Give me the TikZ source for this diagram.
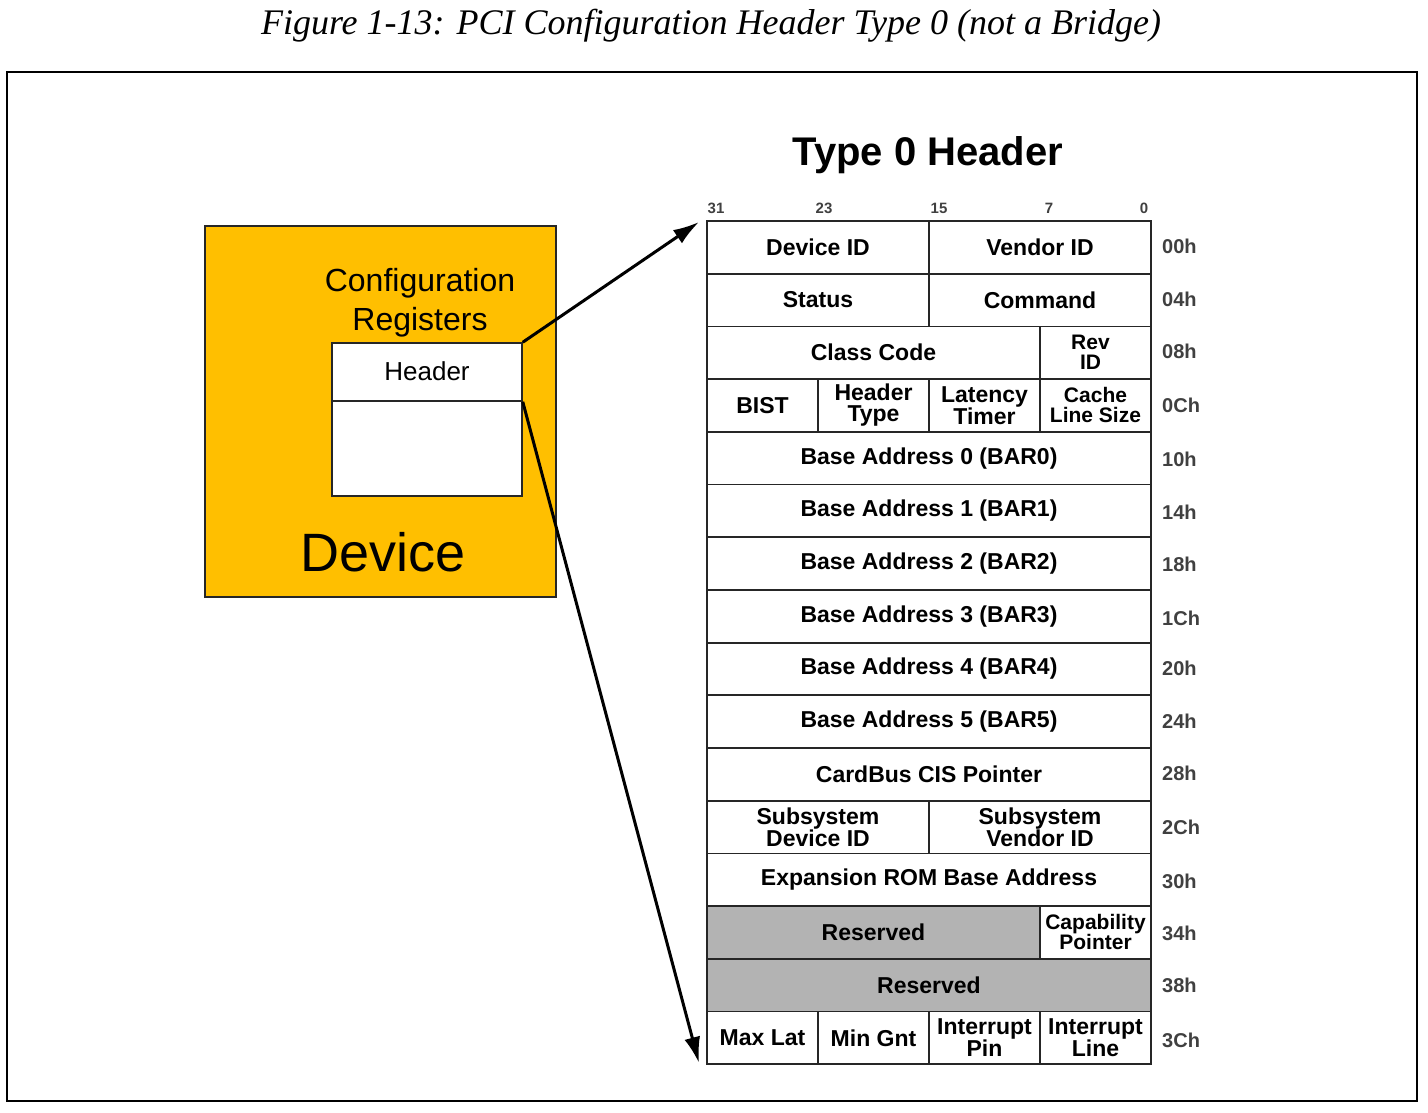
\documentclass[tikz,border=0pt]{standalone}
\usepackage{fontspec}
\setsansfont{Liberation Sans}
\newfontfamily\capfont{Liberation Serif}
\usetikzlibrary{arrows.meta}
\definecolor{devorange}{HTML}{FFBF00}
\definecolor{resgray}{HTML}{B3B3B3}
\definecolor{offgray}{HTML}{404040}
\begin{document}
\begin{tikzpicture}[x=1pt,y=-1pt,
  cell/.style={draw=black!85, line width=1.8pt, fill=white, inner sep=0pt, minimum height=52.7pt, align=center,
    font=\sffamily\bfseries\fontsize{23}{21}\selectfont},
  q1/.style={cell, minimum width=111pt},
  q2/.style={cell, minimum width=222pt},
  q3/.style={cell, minimum width=333pt},
  q4/.style={cell, minimum width=444pt},
  small/.style={font=\sffamily\bfseries\fontsize{21}{20}\selectfont},
  res/.style={fill=resgray},
  offs/.style={anchor=west, inner sep=0pt, text=offgray, font=\sffamily\bfseries\fontsize{20}{22}\selectfont},
  bitn/.style={inner sep=0pt, text=offgray, font=\sffamily\bfseries\fontsize{15}{17}\selectfont},
  conn/.style={line width=3pt, -{Latex[length=26pt,width=16pt]}}
]
\useasboundingbox (0,0) rectangle (1428,1113);
% caption
\node[inner sep=0pt] (caption) at (711,26) {\capfont\itshape\fontsize{36}{38}\selectfont Figure 1-13: PCI Configuration Header Type 0 (not a Bridge)};
% frame
\draw[line width=2.5pt] (7,72) rectangle (1417,1101);
% device
\node[draw=black!85, line width=1.5pt, fill=devorange, minimum width=351pt, minimum height=371pt, inner sep=0pt] (dev) at (380.5,411.5) {};
\node[inner sep=0pt, align=center, font=\sffamily\fontsize{32}{39}\selectfont] (cfg) at (420,303) {Configuration\\Registers};
\node[draw=black!85, line width=1.5pt, fill=white, minimum width=190pt, minimum height=58pt, inner sep=0pt, font=\sffamily\fontsize{26}{28}\selectfont] (hdr) at (427,372) {\raisebox{2pt}{Header}};
\node[draw=black!85, line width=1.5pt, fill=white, minimum width=190pt, minimum height=95pt, inner sep=0pt] (hbody) at (427,448.5) {};
\node[inner sep=0pt, font=\sffamily\fontsize{54}{60}\selectfont] (devlbl) at (383,552) {Device};
% title
\node[inner sep=0pt, font=\sffamily\bfseries\fontsize{40}{44}\selectfont] (title) at (928,155) {Type 0 Header};
% bit numbers
\node[bitn] (b31) at (716,208) {31};
\node[bitn] (b23) at (824,208) {23};
\node[bitn] (b15) at (939,208) {15};
\node[bitn] (b7) at (1049,208) {7};
\node[bitn] (b0) at (1144,208) {0};
% rows
\node[q2] (devid) at (818,247.35) {Device ID};
\node[q2] (venid) at (1040,247.35) {Vendor ID};
\node[q2] (status) at (818,300.05) {Status};
\node[q2] (cmd) at (1040,300.05) {Command};
\node[q3] (class) at (873.5,352.75) {Class Code};
\node[q1,small] (rev) at (1095.5,352.75) {\hspace*{-10pt}Rev\\\hspace*{-10pt}ID};
\node[q1] (bist) at (762.5,405.45) {BIST};
\node[q1] (htype) at (873.5,405.45) {Header\\Type};
\node[q1] (lat) at (984.5,405.45) {Latency\\Timer};
\node[q1,small] (cls) at (1095.5,405.45) {Cache\\Line Size};
\node[q4] (bar0) at (929,458.15) {Base Address 0 (BAR0)};
\node[q4] (bar1) at (929,510.85) {Base Address 1 (BAR1)};
\node[q4] (bar2) at (929,563.55) {Base Address 2 (BAR2)};
\node[q4] (bar3) at (929,616.25) {Base Address 3 (BAR3)};
\node[q4] (bar4) at (929,668.95) {Base Address 4 (BAR4)};
\node[q4] (bar5) at (929,721.65) {Base Address 5 (BAR5)};
\node[q4] (cis) at (929,774.35) {CardBus CIS Pointer};
\node[q2] (ssdev) at (818,827.05) {Subsystem\\Device ID};
\node[q2] (ssven) at (1040,827.05) {Subsystem\\Vendor ID};
\node[q4] (rom) at (929,879.75) {Expansion ROM Base Address};
\node[q3,res] (resa) at (873.5,932.45) {Reserved};
\node[q1,small] (capptr) at (1095.5,932.45) {Capability\\Pointer};
\node[q4,res] (resb) at (929,985.15) {Reserved};
\node[q1] (maxlat) at (762.5,1037.85) {Max Lat};
\node[q1] (mingnt) at (873.5,1037.85) {Min Gnt};
\node[q1] (ipin) at (984.5,1037.85) {Interrupt\\Pin};
\node[q1] (iline) at (1095.5,1037.85) {Interrupt\\Line};
% offsets
\node[offs] (o00) at (1162,246) {00h};
\node[offs] (o04) at (1162,299) {04h};
\node[offs] (o08) at (1162,351) {08h};
\node[offs] (o0C) at (1162,405) {0Ch};
\node[offs] (o10) at (1162,459) {10h};
\node[offs] (o14) at (1162,512) {14h};
\node[offs] (o18) at (1162,564) {18h};
\node[offs] (o1C) at (1162,618) {1Ch};
\node[offs] (o20) at (1162,668) {20h};
\node[offs] (o24) at (1162,721) {24h};
\node[offs] (o28) at (1162,773) {28h};
\node[offs] (o2C) at (1162,827) {2Ch};
\node[offs] (o30) at (1162,881) {30h};
\node[offs] (o34) at (1162,933) {34h};
\node[offs] (o38) at (1162,985) {38h};
\node[offs] (o3C) at (1162,1040) {3Ch};
% connectors
\coordinate (tipA) at (699,222);
\coordinate (tipB) at (699,1063);
\draw[conn] (hdr.north east) -- (tipA);
\draw[conn] (hdr.south east) -- (tipB);
\end{tikzpicture}
\end{document}
